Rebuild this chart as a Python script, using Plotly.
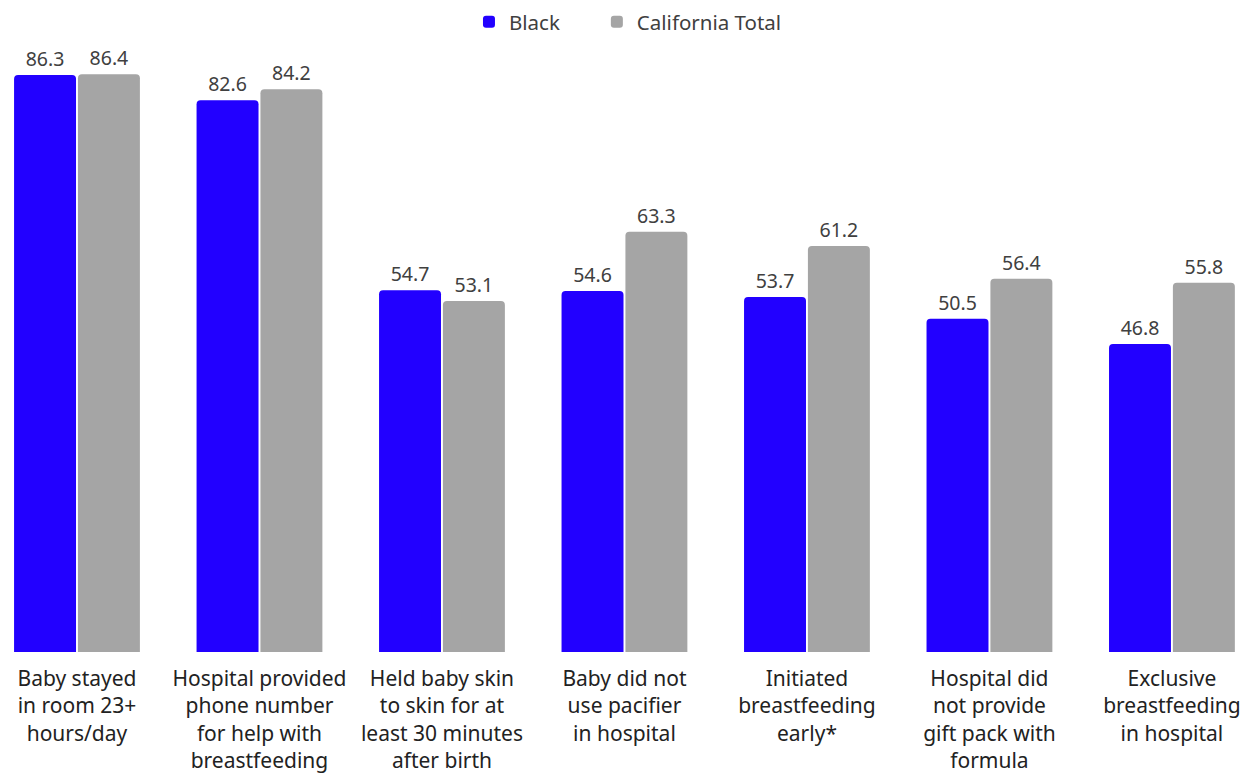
import plotly.graph_objects as go

categories = [
    "Baby stayed<br>in room 23+<br>hours/day",
    "Hospital provided<br>phone number<br>for help with<br>breastfeeding",
    "Held baby skin<br>to skin for at<br>least 30 minutes<br>after birth",
    "Baby did not<br>use pacifier<br>in hospital",
    "Initiated<br>breastfeeding<br>early*",
    "Hospital did<br>not provide<br>gift pack with<br>formula",
    "Exclusive<br>breastfeeding<br>in hospital",
]
black = [86.3, 82.6, 54.7, 54.6, 53.7, 50.5, 46.8]
ca_total = [86.4, 84.2, 53.1, 63.3, 61.2, 56.4, 55.8]

FONT = "Noto Sans"
TXT = "#404040"

fig = go.Figure()
fig.add_trace(go.Bar(name="Black      ", x=list(range(7)), y=black,
                     marker_color="#2200FF",
                     text=[f"{v:.1f}" for v in black], textposition="outside",
                     cliponaxis=False))
fig.add_trace(go.Bar(name="California Total", x=list(range(7)), y=ca_total,
                     marker_color="#A5A5A5",
                     text=[f"{v:.1f}" for v in ca_total], textposition="outside",
                     cliponaxis=False))

fig.update_traces(textfont=dict(family=FONT, size=19.5, color=TXT), marker_line_width=0)
# page body has an 8px margin, so everything is laid out 8px up/left of the target
fig.update_layout(
    width=1255, height=774,
    barmode="group", bargap=0.3, bargroupgap=0.03, barcornerradius=4,
    plot_bgcolor="white", paper_bgcolor="white",
    margin=dict(l=0, r=0, t=40, b=130, autoexpand=False),
    font=dict(family=FONT, size=19, color=TXT),
    legend=dict(orientation="h", x=0.494, xanchor="center",
                yref="container", y=0.982, yanchor="middle",
                font=dict(size=20.5, color=TXT), itemwidth=30,
                bgcolor="rgba(0,0,0,0)"),
    showlegend=True,
)
fig.update_xaxes(tickvals=list(range(7)), ticktext=categories,
                 range=[-0.378, 6.499], showline=False, showgrid=False,
                 automargin=False,
                 ticks="", ticklabelstandoff=12, tickfont=dict(size=21, color="#222"))
fig.update_yaxes(range=[1.57, 90.27], visible=False, automargin=False)

fig.write_html("out.html")
